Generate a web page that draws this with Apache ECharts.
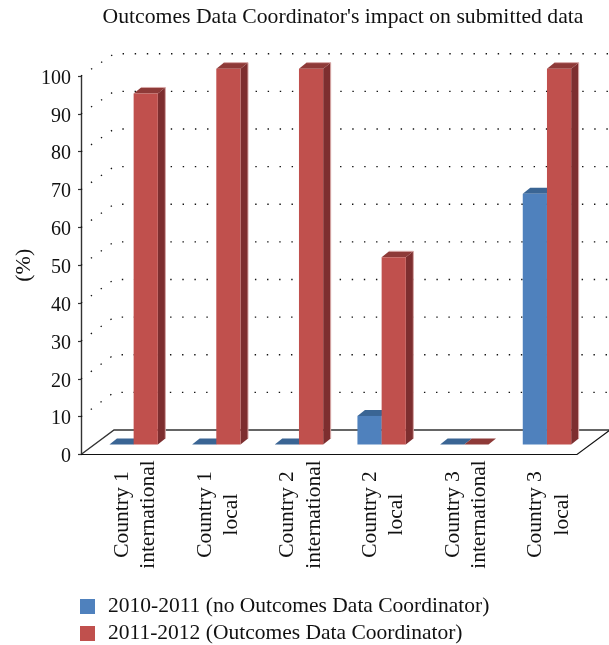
<!DOCTYPE html>
<html>
<head>
<meta charset="utf-8">
<style>html,body{margin:0;padding:0;background:#fff}#c{width:609px;height:645px}</style>
<script src="https://cdn.jsdelivr.net/npm/echarts@6/dist/echarts.min.js"></script>
</head>
<body>
<div id="c"></div>
<script>
const categories = ['Country 1\ninternational','Country 1\nlocal','Country 2\ninternational','Country 2\nlocal','Country 3\ninternational','Country 3\nlocal'];
const seriesNames = ['2010-2011 (no Outcomes Data Coordinator)','2011-2012 (Outcomes Data Coordinator)'];
const values2010 = [0,0,0,7.6,0,66.7];
const values2011 = [93.4,100,100,49.8,0,100];
const wallValues = [10,20,30,40,50,60,70,80,90,100];
const titleText = "Outcomes Data Coordinator's impact on submitted data";
const FONT = '"Liberation Serif", serif';

const DEPTH_X = 33, DEPTH_Y = 24.5;      // floor depth
const BAR_DX = 11.3, BAR_DY = 10;        // bars stand inside the floor
const SIDE_DX = 7.5, SIDE_DY = 6;        // bar thickness
const BAR_W = 24.2, BAR_SCALE = 0.993, WALL_SCALE = 0.994;

function wallItem(params, api) {
  const p = api.coord([0, api.value(0)]);
  const s = params.coordSys;
  const x0 = s.x, y = p[1], b = s.y+s.height;
  const by = b-DEPTH_Y-(b-y)*WALL_SCALE;
  return { type:'polyline', silent:true,
    shape:{points:[[x0,y],[x0+DEPTH_X,by],[s.x+s.width+DEPTH_X,by]]},
    style:{fill:null,stroke:'#111',lineWidth:1.3,lineDash:[1.4,10.7]} };
}
function floorItem(params, api) {
  const s = params.coordSys, b = s.y+s.height, l = s.x, r = s.x+s.width;
  return { type:'group', silent:true, children:[
    {type:'polyline',shape:{points:[[l,b],[l+DEPTH_X,b-DEPTH_Y],[r+DEPTH_X,b-DEPTH_Y]]},style:{fill:null,stroke:'#333',lineWidth:1.4}},
    {type:'polyline',shape:{points:[[l,b],[r,b],[r+DEPTH_X,b-DEPTH_Y]]},style:{fill:null,stroke:'#111',lineWidth:1.2}}
  ]};
}
function barItem(side, cols) {
  return function(params, api) {
    const c = api.coord([api.value(0), api.value(1)]);
    const z = api.coord([api.value(0), 0]);
    const base = z[1]-BAR_DY;
    const top = base-(z[1]-c[1])*BAR_SCALE;
    const x0 = z[0]+BAR_DX+(side<0?-BAR_W:0), x1 = x0+BAR_W;
    const kids = [
      {type:'polygon',shape:{points:[[x1,top],[x1+SIDE_DX,top-SIDE_DY],[x1+SIDE_DX,base-SIDE_DY],[x1,base]]},style:{fill:cols[2]}},
      {type:'polygon',shape:{points:[[x0,top],[x1,top],[x1+SIDE_DX,top-SIDE_DY],[x0+SIDE_DX,top-SIDE_DY]]},style:{fill:cols[1]}},
      {type:'rect',shape:{x:x0,y:top,width:BAR_W,height:base-top},style:{fill:cols[0]}}
    ];
    if (cols[3] && base-top>1) kids.push({type:'polyline',
      shape:{points:[[x0+SIDE_DX,top-SIDE_DY],[x1+SIDE_DX,top-SIDE_DY],[x1+SIDE_DX,base-SIDE_DY]]},
      style:{fill:null,stroke:cols[3],lineWidth:1}});
    return {type:'group',silent:true,children:kids};
  };
}
const blue = ['#4F81BD','#3A6594','#2F5278'];
const red = ['#C0504D','#8E3A38','#7D2E2F','#D8A9A8'];

const chart = echarts.init(document.getElementById('c'), null, {renderer:'canvas'});
chart.setOption({
  animation:false,
  backgroundColor:'#fff',
  title:{text:titleText,left:338,textAlign:'center',top:1,textStyle:{fontFamily:FONT,fontSize:21.7,fontWeight:'normal',color:'#111'}},
  legend:{orient:'vertical',left:80,top:595.5,height:70,padding:0,itemWidth:15,itemHeight:15,itemGap:5,icon:'rect',selectedMode:false,
    data:seriesNames,textStyle:{fontFamily:FONT,fontSize:21.5,lineHeight:22,color:'#111',padding:[0,0,0,8]}},
  grid:{left:81,top:76,width:496,height:378.5,containLabel:false,outerBoundsMode:'none'},
  xAxis:{type:'category',data:categories,boundaryGap:true,
    axisLine:{show:false},axisTick:{show:false},
    axisLabel:{interval:0,rotate:90,align:'center',verticalAlign:'middle',margin:60,
      formatter:v=>'\n'+v,lineHeight:26.5,fontFamily:FONT,fontSize:21.5,color:'#111'}},
  yAxis:{type:'value',min:0,max:100,interval:10,name:'(%)',nameLocation:'middle',nameGap:46,nameRotate:90,nameMoveOverlap:false,
    nameTextStyle:{fontFamily:FONT,fontSize:22,color:'#111'},
    axisLine:{show:true,lineStyle:{color:'#333',width:1.4}},
    axisTick:{show:true,inside:false,length:3,lineStyle:{color:'#333',width:1.2}},
    axisLabel:{margin:10,verticalAlign:'top',lineHeight:5,fontFamily:FONT,fontSize:20,color:'#111'},
    splitLine:{show:false}},
  series:[
    {type:'custom',name:'walls',coordinateSystem:'cartesian2d',clip:false,silent:true,z:1,encode:{y:0},
      data:wallValues.map(v=>[v]),renderItem:wallItem,tooltip:{show:false}},
    {type:'custom',name:'floor',coordinateSystem:'cartesian2d',clip:false,silent:true,z:1,
      data:[[0]],renderItem:floorItem},
    {type:'custom',name:seriesNames[0],coordinateSystem:'cartesian2d',clip:false,silent:true,z:2,itemStyle:{color:blue[0]},
      encode:{x:0,y:1},data:values2010.map((v,i)=>[i,v]),renderItem:barItem(-1,blue)},
    {type:'custom',name:seriesNames[1],coordinateSystem:'cartesian2d',clip:false,silent:true,z:3,itemStyle:{color:red[0]},
      encode:{x:0,y:1},data:values2011.map((v,i)=>[i,v]),renderItem:barItem(1,red)}
  ]
});
</script>
</body>
</html>
